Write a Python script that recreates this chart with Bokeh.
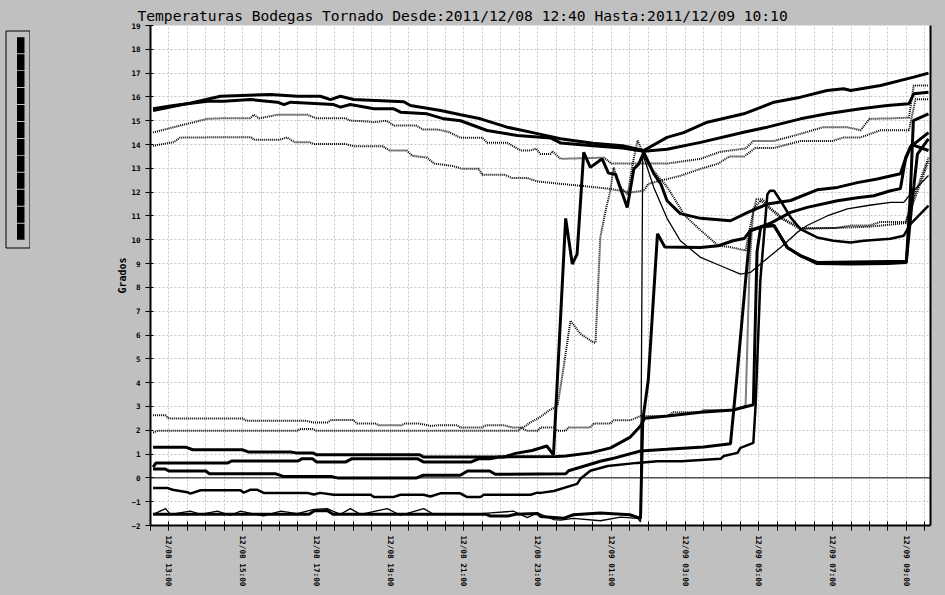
from bokeh.plotting import figure
from bokeh.layouts import row
from bokeh.models import Range1d, FixedTicker, Span, LinearAxis, Title
from bokeh.embed import file_html
from bokeh.resources import INLINE

TITLE = "Temperaturas Bodegas Tornado Desde:2011/12/08 12:40 Hasta:2011/12/09 10:10"
Y_LABEL = "Grados"
# x values are hours counted from 12/08 12:00
X_TICK_HOURS = [1, 3, 5, 7, 9, 11, 13, 15, 17, 19, 21]
X_TICK_LABELS = ["12/08  13:00", "12/08  15:00", "12/08  17:00", "12/08  19:00",
                 "12/08  21:00", "12/08  23:00", "12/09  01:00", "12/09  03:00",
                 "12/09  05:00", "12/09  07:00", "12/09  09:00"]
Y_TICKS = list(range(-2, 20))

S1 = [(0.57, 15.43), (1.1, 15.6), (1.6, 15.75), (2.4, 16.03), (3.75, 16.1), (4.48, 16.03),
      (5.11, 16.03), (5.38, 15.89), (5.65, 16.03), (6.01, 15.89), (7.37, 15.8), (7.55, 15.64),
      (8.37, 15.43), (8.91, 15.25), (9.45, 15.08), (10.17, 14.73), (10.9, 14.49), (11.62, 14.24),
      (12.5, 14.05), (13.3, 13.95), (13.88, 13.75), (14.51, 14.3), (14.96, 14.5), (15.6, 14.94),
      (16.59, 15.29), (17.41, 15.78), (18.13, 15.99), (18.85, 16.27), (19.3, 16.34), (19.49, 16.27),
      (20.3, 16.48), (21.2, 16.83), (21.6, 17.0)]
S2 = [(0.57, 15.5), (1.13, 15.64), (2.04, 15.82), (2.49, 15.82), (3.21, 15.89), (3.94, 15.78),
      (4.12, 15.68), (4.3, 15.78), (5.47, 15.68), (5.65, 15.57), (5.92, 15.68), (6.56, 15.5),
      (7.1, 15.5), (7.28, 15.36), (8.0, 15.29), (8.46, 15.08), (8.91, 15.0), (9.63, 14.59),
      (10.45, 14.38), (11.35, 14.28), (11.62, 14.07), (12.5, 13.95), (13.3, 13.85), (13.88, 13.72),
      (14.51, 13.8), (15.42, 14.09), (16.59, 14.52), (17.23, 14.73), (18.13, 15.08), (18.85, 15.29),
      (19.76, 15.5), (20.48, 15.64), (21.07, 15.71), (21.2, 16.13), (21.6, 16.2)]
S3 = [(0.57, 14.51), (1.13, 14.73), (2.04, 15.08), (2.4, 15.1), (3.2, 15.1), (3.3, 15.25),
      (3.45, 15.1), (3.94, 15.25), (4.75, 15.25), (5.0, 15.1), (5.8, 15.1), (5.92, 15.0),
      (6.3, 14.98), (6.56, 14.94), (6.9, 15.0), (7.1, 14.8), (7.7, 14.8), (7.9, 14.63),
      (8.3, 14.63), (8.6, 14.52), (8.9, 14.29), (9.5, 14.29), (9.63, 14.08), (10.17, 14.08),
      (10.54, 13.75), (10.81, 13.75), (10.95, 13.83), (11.08, 13.6), (11.35, 13.6), (11.4, 13.72),
      (11.62, 13.4), (12.8, 13.45), (13.0, 13.2), (13.88, 13.2), (14.51, 13.2), (15.42, 13.4),
      (15.96, 13.7), (16.64, 13.83), (16.85, 14.15), (17.41, 14.15), (18.13, 14.45), (18.75, 14.73),
      (19.4, 14.73), (19.76, 14.6), (20.0, 15.08), (20.6, 15.1), (21.07, 15.13), (21.2, 16.48),
      (21.6, 16.48)]
S4 = [(0.57, 13.95), (1.13, 14.1), (1.3, 14.29), (2.6, 14.31), (3.23, 14.31), (3.3, 14.2),
      (4.0, 14.2), (4.2, 14.3), (4.4, 14.1), (4.8, 14.1), (4.95, 14.02), (5.8, 14.02),
      (6.0, 13.93), (6.8, 13.93), (6.98, 13.75), (7.45, 13.75), (7.6, 13.53), (8.0, 13.45),
      (8.2, 13.2), (8.7, 13.1), (8.95, 12.98), (9.4, 12.98), (9.5, 12.73), (10.1, 12.73),
      (10.3, 12.6), (10.7, 12.6), (11.0, 12.45), (11.62, 12.35), (12.16, 12.27), (12.9, 12.15),
      (13.52, 11.99), (13.88, 12.06), (14.0, 12.35), (14.87, 12.69), (15.42, 12.98), (15.9, 13.2),
      (16.2, 13.5), (16.6, 13.5), (16.9, 13.85), (17.4, 13.85), (18.13, 14.15), (19.0, 14.15),
      (19.3, 14.3), (19.76, 14.3), (20.3, 14.6), (21.07, 14.6), (21.25, 15.9), (21.6, 15.9)]
S5 = [(0.57, 2.63), (0.9, 2.63), (1.0, 2.49), (3.0, 2.49), (3.1, 2.4), (4.7, 2.4),
      (4.9, 2.33), (5.3, 2.33), (5.4, 2.43), (6.0, 2.43), (6.1, 2.28), (6.6, 2.28),
      (6.7, 2.21), (7.3, 2.21), (7.4, 2.28), (7.8, 2.28), (8.1, 2.18), (8.3, 2.21),
      (8.8, 2.21), (8.9, 2.12), (9.5, 2.12), (9.6, 2.21), (10.1, 2.21), (10.3, 2.12),
      (10.6, 2.12), (10.7, 2.21), (10.8, 2.33), (11.05, 2.53), (11.3, 2.82), (11.54, 3.03),
      (11.7, 4.6), (11.89, 6.6), (12.16, 6.05), (12.52, 5.68), (12.57, 5.68), (12.7, 10.1),
      (12.84, 11.2), (12.97, 12.06), (13.06, 13.03), (13.25, 12.2), (13.44, 11.9), (13.58, 13.2),
      (13.71, 14.17), (13.98, 13.2), (14.52, 12.2), (15.0, 11.0), (15.42, 10.4), (15.9, 9.75),
      (16.2, 9.7), (16.64, 9.55), (16.72, 10.25), (16.93, 11.7), (17.1, 11.7), (17.3, 11.36),
      (17.65, 10.9), (18.13, 10.5), (19.1, 10.5), (19.5, 10.6), (20.0, 10.6), (20.3, 10.75),
      (20.98, 10.75), (21.2, 11.8), (21.6, 13.45)]
S6 = [(0.57, 1.9), (0.7, 1.98), (4.5, 1.98), (4.55, 2.05), (4.9, 2.05), (5.0, 1.98),
      (10.5, 1.98), (10.54, 2.12), (10.7, 1.98), (11.0, 1.98), (11.08, 2.12), (11.43, 2.12),
      (11.54, 1.98), (11.76, 1.98), (11.84, 2.12), (12.43, 2.12), (12.52, 2.28), (12.98, 2.28),
      (13.06, 2.42), (13.52, 2.42), (13.79, 2.6), (14.52, 2.6), (14.68, 2.76), (15.42, 2.76),
      (15.5, 2.85), (16.3, 2.85), (16.64, 3.03), (16.75, 9.0), (16.85, 11.3), (17.05, 11.65),
      (17.3, 11.3), (17.65, 10.85), (18.13, 10.45), (19.1, 10.5), (20.0, 10.55), (20.98, 10.7),
      (21.2, 11.6), (21.6, 13.3)]
S7 = [(0.57, 1.29), (1.45, 1.29), (1.65, 1.18), (3.0, 1.18), (3.15, 1.09), (4.3, 1.09),
      (4.45, 1.05), (4.9, 1.05), (5.0, 0.97), (7.8, 0.97), (7.9, 0.88), (10.1, 0.88),
      (10.4, 1.03), (10.85, 1.15), (11.25, 1.34), (11.43, 0.97), (11.76, 10.9), (11.94, 8.98),
      (12.07, 9.4), (12.25, 13.67), (12.43, 13.04), (12.75, 13.4), (12.92, 12.8), (13.11, 12.75),
      (13.43, 11.36), (13.61, 12.98), (13.74, 13.18), (13.88, 13.67), (14.15, 12.78), (14.34, 12.35),
      (14.51, 11.64), (14.87, 11.1), (15.42, 10.9), (16.23, 10.8), (16.7, 11.15), (17.23, 11.5),
      (17.86, 11.65), (18.58, 12.1), (19.13, 12.2), (19.67, 12.4), (20.21, 12.55), (20.84, 12.77),
      (20.93, 13.2), (21.11, 13.9), (21.6, 14.5)]
S8 = [(0.57, 0.45), (0.65, 0.63), (2.6, 0.63), (2.7, 0.71), (4.5, 0.71), (4.6, 0.8),
      (4.9, 0.8), (5.0, 0.67), (5.8, 0.67), (5.95, 0.8), (7.75, 0.8), (7.9, 0.67),
      (9.2, 0.67), (9.4, 0.8), (9.7, 0.8), (9.95, 0.88), (11.5, 0.9), (11.76, 0.92),
      (12.43, 1.05), (12.98, 1.26), (13.5, 1.7), (13.79, 2.18), (13.9, 2.5), (14.52, 2.6),
      (15.42, 2.76), (16.3, 2.85), (16.85, 3.07), (16.95, 9.5), (17.05, 10.55), (17.41, 10.6),
      (17.77, 9.68), (18.13, 9.33), (18.58, 9.05), (21.0, 9.1), (21.15, 11.5), (21.3, 13.6),
      (21.6, 14.24)]
S9 = [(0.57, 0.37), (0.9, 0.37), (1.0, 0.29), (2.0, 0.29), (2.1, 0.17), (3.9, 0.17),
      (4.1, 0.06), (5.4, 0.06), (5.6, -0.01), (7.7, -0.01), (7.9, 0.11), (8.9, 0.11),
      (9.1, 0.29), (9.7, 0.29), (9.85, 0.15), (11.76, 0.17), (11.84, 0.3), (12.7, 0.7),
      (13.0, 0.8), (13.79, 1.13), (14.5, 1.2), (15.5, 1.3), (16.23, 1.43), (16.42, 4.5),
      (16.64, 8.3), (16.77, 10.4), (17.1, 10.55), (17.41, 10.6), (17.77, 9.68), (18.13, 9.33),
      (18.58, 9.0), (19.5, 8.98), (20.5, 9.0), (21.0, 9.05), (21.11, 12.0), (21.19, 15.0),
      (21.6, 15.29)]
S10 = [(0.57, -0.42), (0.95, -0.42), (1.1, -0.5), (1.5, -0.6), (1.58, -0.66), (1.86, -0.52),
       (2.94, -0.52), (3.03, -0.62), (3.2, -0.5), (3.4, -0.5), (3.57, -0.63), (4.75, -0.63),
       (4.93, -0.7), (5.1, -0.63), (5.47, -0.71), (6.47, -0.71), (6.56, -0.8), (7.1, -0.8),
       (7.28, -0.71), (7.91, -0.71), (8.09, -0.78), (8.36, -0.65), (8.9, -0.65), (9.08, -0.8),
       (9.45, -0.8), (9.54, -0.71), (10.81, -0.71), (10.99, -0.62), (11.08, -0.63), (11.44, -0.55),
       (12.07, -0.25), (12.16, -0.04), (12.43, 0.3), (12.9, 0.5), (13.7, 0.63), (14.25, 0.7),
       (14.9, 0.7), (15.96, 0.8), (16.05, 0.92), (16.42, 1.05), (16.5, 1.26), (16.85, 1.47),
       (16.91, 3.0), (17.04, 8.3), (17.23, 11.9), (17.3, 12.06), (17.41, 12.06), (17.59, 11.64),
       (17.86, 10.94), (18.13, 10.45), (18.58, 10.1), (19.02, 9.96), (19.49, 9.89), (19.85, 9.96),
       (20.57, 10.04), (20.93, 10.17), (21.11, 10.66), (21.6, 11.43)]
S11 = [(0.57, -1.53), (0.91, -1.29), (1.04, -1.53), (1.58, -1.4), (1.86, -1.53), (2.31, -1.4),
       (2.67, -1.57), (2.94, -1.4), (3.57, -1.6), (4.03, -1.4), (4.48, -1.5), (4.93, -1.32),
       (5.29, -1.29), (5.65, -1.53), (5.92, -1.29), (6.2, -1.53), (6.92, -1.29), (7.28, -1.57),
       (7.91, -1.29), (8.18, -1.53), (9.27, -1.53), (9.72, -1.47), (10.35, -1.4), (10.72, -1.67),
       (10.99, -1.47), (11.44, -1.75), (11.62, -1.77), (11.97, -1.7), (12.7, -1.8), (13.25, -1.65),
       (13.71, -1.7), (13.79, -1.85), (13.85, 13.6), (14.15, 12.2), (14.51, 10.9), (14.87, 9.96),
       (15.42, 9.26), (15.96, 8.91), (16.5, 8.56), (16.77, 8.63), (17.15, 9.12), (17.59, 9.68),
       (18.04, 10.31), (18.31, 10.6), (18.85, 11.0), (19.4, 11.3), (20.0, 11.45), (20.57, 11.57),
       (20.93, 11.57), (21.1, 11.9), (21.6, 12.7)]
S12 = [(0.57, -1.53), (4.8, -1.53), (4.95, -1.38), (5.3, -1.38), (5.45, -1.53), (9.6, -1.53),
       (9.72, -1.6), (10.2, -1.6), (10.4, -1.53), (11.0, -1.5), (11.08, -1.62), (11.7, -1.7),
       (11.97, -1.55), (12.7, -1.48), (13.5, -1.55), (13.79, -1.7), (13.85, 2.4), (14.0, 4.1),
       (14.25, 10.25), (14.45, 9.7), (15.42, 9.68), (15.9, 9.75), (16.3, 9.96), (16.6, 10.05),
       (16.77, 10.38), (17.32, 10.7), (17.86, 11.15), (18.31, 11.36), (19.13, 11.64), (19.67, 11.77),
       (20.12, 11.85), (20.57, 12.06), (20.84, 12.15), (20.98, 13.45), (21.15, 14.0), (21.6, 13.75)]

SERIES = [S1, S2, S3, S4, S5, S6, S7, S8, S9, S10, S11, S12]
STYLES = [(3, None), (3, None), (2, "1 1"), (2, "1 1"), (2, "1 1"), (2, "1 1"),
          (3, None), (3, None), (3, None), (2.5, None), (1.3, None), (3, None)]

GRAY = "#c0c0c0"
MONO = "DejaVu Sans Mono"

# ---- legend strip on the left (its frame lines up with the chart frame: y 25..525) ----
leg = figure(width=30, height=595, x_range=Range1d(0, 30), y_range=Range1d(525, 25),
             toolbar_location=None, output_backend="svg", min_border=0,
             x_axis_location=None, y_axis_location=None)
leg.grid.visible = False
leg.outline_line_color = None
leg.background_fill_color = GRAY
leg.border_fill_color = GRAY
leg.quad(left=5.5, right=29.5, top=30.5, bottom=247.5, fill_color=None,
         line_color="black", line_width=1)
tops = [36.7 + k * 16.95 for k in range(len(SERIES))]
leg.quad(left=[16.5] * len(tops), right=[24.0] * len(tops), top=tops,
         bottom=[t + 16.0 for t in tops], fill_color="black", line_color=None)

# ---- main chart ----
title = Title(text=TITLE, align="left", offset=-13, vertical_align="middle", standoff=2,
              text_font=MONO, text_font_size="14.6px", text_font_style="normal",
              text_color="black")
p = figure(width=915, height=595, x_range=Range1d(0.5, 21.655), y_range=Range1d(-2, 19),
           toolbar_location=None, output_backend="svg", title=title,
           min_border_left=120, min_border_right=15, min_border_top=25, min_border_bottom=70)
p.background_fill_color = "white"
p.border_fill_color = GRAY
p.outline_line_color = None

half_hours = [0.5 + 0.5 * i for i in range(43)]
overrides = {t: "" for t in half_hours}
for h, lab in zip(X_TICK_HOURS, X_TICK_LABELS):
    overrides[float(h)] = lab

xa = p.xaxis[0]
xa.ticker = FixedTicker(ticks=half_hours)
xa.major_label_overrides = overrides
xa.major_label_orientation = "vertical"
xa.major_label_text_font = MONO
xa.major_label_text_font_size = "7.7px"
xa.major_label_text_font_style = "bold"
xa.major_label_text_color = "black"
xa.major_label_standoff = 5
xa.major_tick_in = 4
xa.major_tick_out = 5
xa.minor_tick_line_color = None
xa.axis_line_width = 2
xa.major_tick_line_color = "black"

ya = p.yaxis[0]
ya.ticker = FixedTicker(ticks=Y_TICKS)
ya.major_label_text_font = MONO
ya.major_label_text_font_size = "7.5px"
ya.major_label_text_font_style = "bold"
ya.major_label_text_color = "black"
ya.major_label_standoff = 5
ya.major_tick_in = 3
ya.major_tick_out = 5
ya.minor_tick_line_color = None
ya.axis_line_width = 2
ya.axis_label = Y_LABEL
ya.axis_label_text_font = MONO
ya.axis_label_text_font_size = "10px"
ya.axis_label_text_font_style = "bold"
ya.axis_label_text_color = "black"
ya.axis_label_standoff = 0

right = LinearAxis(ticker=FixedTicker(ticks=[]), major_tick_out=0, major_tick_in=0,
                   major_label_standoff=0, axis_line_width=2, minor_tick_line_color=None,
                   major_tick_line_color=None, major_label_text_font_size="0px")
p.add_layout(right, "right")

p.xgrid.ticker = FixedTicker(ticks=half_hours)
p.ygrid.ticker = FixedTicker(ticks=Y_TICKS)
for g in (p.xgrid[0], p.ygrid[0]):
    g.grid_line_color = "#c6c6c6"
    g.grid_line_dash = "2 2"
    g.grid_line_width = 1

p.add_layout(Span(location=0, dimension="width", line_color="black", line_width=1))

for s, (w, dash) in zip(SERIES, STYLES):
    xs = [a for a, b in s]
    ys = [b for a, b in s]
    if dash:
        p.line(xs, ys, line_color="black", line_width=w, line_dash=dash)
    else:
        p.line(xs, ys, line_color="black", line_width=w)

layout = row(leg, p, styles={"background-color": GRAY})
open("out.html", "w").write(file_html(layout, INLINE))
